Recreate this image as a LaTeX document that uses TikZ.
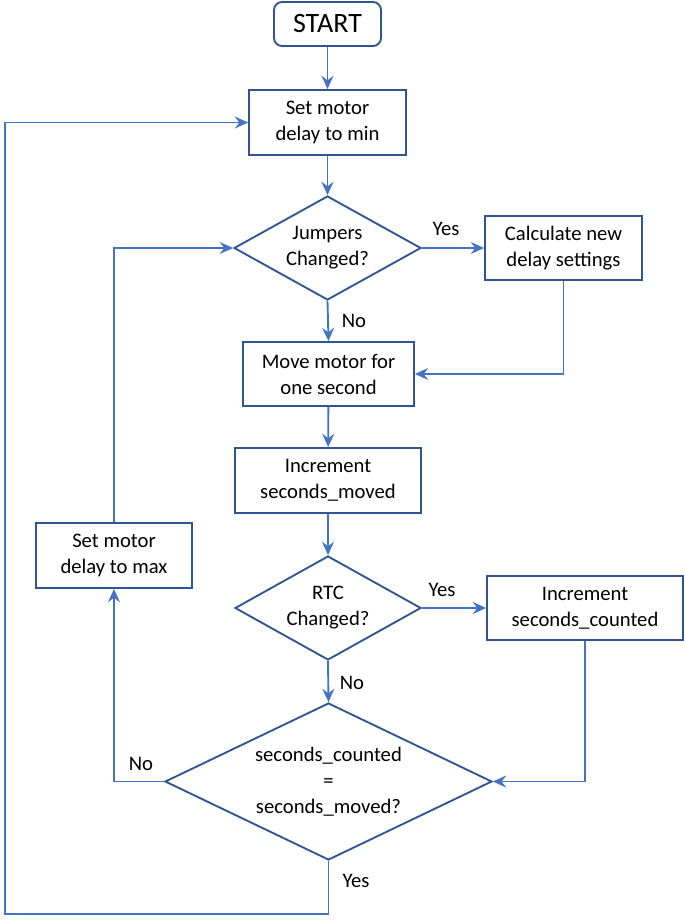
\documentclass[tikz,border=0pt]{standalone}
\usepackage{fontspec}
\setmainfont{Carlito}
\usetikzlibrary{shapes.geometric,arrows.meta}
\definecolor{boxc}{HTML}{2F5597}
\definecolor{linec}{HTML}{4472C4}
\begin{document}
\begin{tikzpicture}[x=0.75pt,y=-0.75pt,
  every node/.style={font=\fontsize{15.5}{19.5}\selectfont, text=black},
  box/.style={draw=boxc, line width=1.4pt, rectangle, align=center, inner sep=0pt},
  dia/.style={draw=boxc, line width=1.4pt, diamond, align=center, inner sep=-20pt},
  conn/.style={draw=linec, line width=1.4pt, -{Stealth[length=10pt,width=9pt,inset=3.5pt]}},
  lbl/.style={font=\fontsize{15.5}{17}\selectfont}]
\useasboundingbox (0,0) rectangle (685,921);
\node[box, rounded corners=6pt, minimum width=80.25pt, minimum height=33pt, font=\fontsize{21}{23}\selectfont] (start) at (327.5,24) {START};
\node[box, minimum width=117.75pt, minimum height=48.75pt] (min) at (327.5,122.5) {Set motor\\delay to min};
\node[dia, minimum width=140.25pt, minimum height=78pt] (jump) at (327.5,248) {Jumpers\\Changed?};
\node[box, minimum width=117.75pt, minimum height=48pt] (calc) at (563.5,248) {Calculate new\\delay settings};
\node[box, minimum width=128.25pt, minimum height=48pt] (move) at (328.5,374) {Move motor for\\one second};
\node[box, minimum width=139.5pt, minimum height=48.75pt] (incm) at (328,480.5) {Increment\\seconds\_moved};
\node[box, minimum width=117pt, minimum height=48.75pt] (max) at (114,555.5) {Set motor\\delay to max};
\node[dia, minimum width=139.5pt, minimum height=78pt] (rtc) at (328,608) {RTC\\Changed?};
\node[box, minimum width=147pt, minimum height=48pt] (incc) at (585,608) {Increment\\seconds\_counted};
\node[dia, minimum width=245.25pt, minimum height=117.75pt] (eq) at (328.5,781.5) {seconds\_counted\\=\\seconds\_moved?};
\coordinate (bl) at (5,914);
\draw[conn] (start) -- (min);
\draw[conn] (min) -- (jump);
\draw[conn] (jump.east) -- (calc.west);
\draw[conn] (jump.south) -- (move.north);
\draw[conn] (calc.south) |- (move.east);
\draw[conn] (move) -- (incm);
\draw[conn] (incm) -- (rtc);
\draw[conn] (rtc.east) -- (incc.west);
\draw[conn] (rtc.south) -- (eq.north);
\draw[conn] (incc.south) |- (eq.east);
\draw[conn] (eq.west) -| (max.south);
\draw[conn] (max.north) |- (jump.west);
\draw[conn] (eq.south) |- (bl) |- (min.west);
\node[lbl] (y1) at (446,229) {Yes};
\node[lbl] (n1) at (354,321) {No};
\node[lbl] (y2) at (442,590) {Yes};
\node[lbl] (n2) at (352,683) {No};
\node[lbl] (n3) at (141,764) {No};
\node[lbl] (y3) at (356,881) {Yes};
\end{tikzpicture}
\end{document}
